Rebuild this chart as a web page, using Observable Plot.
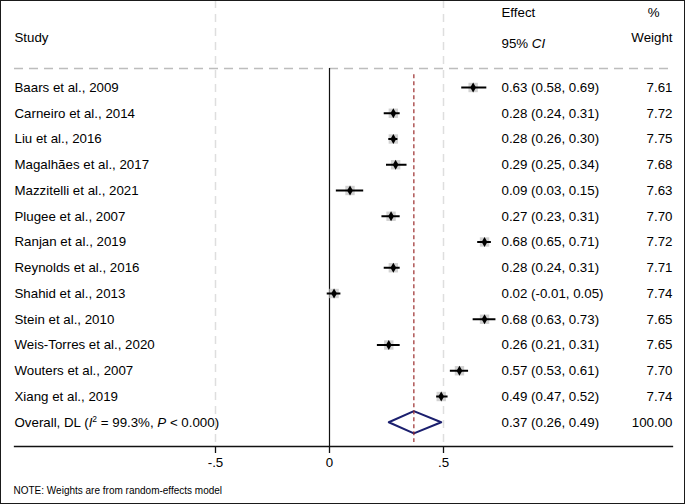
<!DOCTYPE html>
<html><head><meta charset="utf-8">
<script src="https://cdn.jsdelivr.net/npm/d3@7"></script>
<script src="https://cdn.jsdelivr.net/npm/@observablehq/plot@0.6"></script>
<style>
body{margin:0;background:#fff}
svg{display:block;outline:1px solid #1a1a1a;outline-offset:-1px}
</style>
</head><body><div id="chart"></div><script>
// ---- data ----
const studies = ["Baars et al., 2009","Carneiro et al., 2014","Liu et al., 2016","Magalhães et al., 2017","Mazzitelli et al., 2021","Plugee et al., 2007","Ranjan et al., 2019","Reynolds et al., 2016","Shahid et al., 2013","Stein et al., 2010","Weis-Torres et al., 2020","Wouters et al., 2007","Xiang et al., 2019"];
const effects = [0.63,0.28,0.28,0.29,0.09,0.27,0.68,0.28,0.02,0.68,0.26,0.57,0.49];
const lowers  = [0.58,0.24,0.26,0.25,0.03,0.23,0.65,0.24,-0.01,0.63,0.21,0.53,0.47];
const uppers  = [0.69,0.31,0.30,0.34,0.15,0.31,0.71,0.31,0.05,0.73,0.31,0.61,0.52];
const weights = [7.61,7.72,7.75,7.68,7.63,7.70,7.72,7.71,7.74,7.65,7.65,7.70,7.74];
const overallEffect = 0.37, overallLower = 0.26, overallUpper = 0.49, overallWeight = 100.00;
const overallLabelParts = [{t:"Overall, DL ("},{t:"I",it:true},{t:"2",sup:true},{t:" = 99.3%, "},{t:"P",it:true},{t:" < 0.000)"}];
const xTicks = [-0.5, 0, 0.5];
const xTickLabels = ["-.5", "0", ".5"];
const headerEffect = ["Effect"], headerCI = ["95% CI"], headerPct = ["%"], headerWeight = ["Weight"], headerStudy = ["Study"];
const note = ["NOTE: Weights are from random-effects model"];

// ---- build table ----
const rows = studies.map((s,i)=>({study:s,row:i,effect:effects[i],lower:lowers[i],upper:uppers[i],weight:weights[i]}));
const overallRow = rows.length;
const overall = {study:overallLabelParts.map(p=>p.t).join(""),row:overallRow,effect:overallEffect,lower:overallLower,upper:overallUpper,weight:overallWeight};
const allRows = [...rows, overall];
const f2 = v => v.toFixed(2);
const ciText = d => `${f2(d.effect)} (${f2(d.lower)}, ${f2(d.upper)})`;
const diamondH = 0.43;
const diamond = [
  {x:overall.lower,y:overallRow},{x:overall.effect,y:overallRow-diamondH},
  {x:overall.upper,y:overallRow},{x:overall.effect,y:overallRow+diamondH}
];
const sepRow = -0.74, axisRow = 13.94;
const FONT = "'Liberation Sans', Arial, Helvetica, sans-serif";
const FS = 13.3;
const colDx = -171;

const plot = Plot.plot({
  width: 685, height: 504,
  marginLeft: 14, marginRight: 13, marginTop: 0, marginBottom: 58,
  style: {fontFamily: FONT, fontSize: FS + "px", color: "#000", background: "#fff", overflow: "visible"},
  x: {domain: [-0.5, 0.5], range: [215, 443]},
  y: {domain: [0, 12], range: [87, 396], axis: null},
  marks: [
    Plot.ruleX(xTicks.filter(d => d !== 0), {stroke: "#dedede", strokeWidth: 1.5, strokeDasharray: "8,6"}),
    Plot.ruleY([sepRow], {stroke: "#bdbdbd", strokeWidth: 1.5, strokeDasharray: "9,6"}),
    Plot.ruleX([0], {y1: sepRow, y2: axisRow, stroke: "#111", strokeWidth: 1.2}),
    Plot.frame({anchor: "bottom", stroke: "#111", strokeWidth: 1.3}),
    Plot.axisX({ticks: xTicks, tickFormat: d => xTickLabels[xTicks.indexOf(d)], tickSize: 7, tickPadding: 4, fontSize: FS, label: null, stroke: "#111", strokeWidth: 1.3}),
    Plot.dot(rows, {x: "effect", y: "row", symbol: "square", r: 5.3, fill: "#d2d2d2", stroke: "none"}),
    Plot.ruleY(rows, {y: "row", x1: "lower", x2: "upper", stroke: "#000", strokeWidth: 2}),
    Plot.dot(rows, {x: "effect", y: "row", symbol: "diamond", r: 3, fill: "#000", stroke: "none"}),
    Plot.line(diamond, {x: "x", y: "y", curve: "linear-closed", stroke: "#1b1f6e", strokeWidth: 2, fill: "none"}),
    Plot.ruleX([overallEffect], {y1: -0.5, y2: 13.79, stroke: "#9b2b2b", strokeWidth: 1.2, strokeDasharray: "4,3"}),
    Plot.text(allRows, {y: "row", text: "study", frameAnchor: "left", textAnchor: "start", fontSize: FS}),
    Plot.text(allRows, {y: "row", text: ciText, frameAnchor: "right", dx: colDx, textAnchor: "start", fontSize: FS}),
    Plot.text(allRows, {y: "row", text: d => f2(d.weight), frameAnchor: "right", textAnchor: "end", fontSize: FS}),
    Plot.text(headerStudy, {frameAnchor: "top-left", dy: 37, lineAnchor: "middle", textAnchor: "start", fontSize: FS}),
    Plot.text(headerEffect, {frameAnchor: "top-right", dx: colDx, dy: 12, lineAnchor: "middle", textAnchor: "start", fontSize: FS}),
    Plot.text(headerCI, {frameAnchor: "top-right", dx: colDx, dy: 43, lineAnchor: "middle", textAnchor: "start", fontSize: FS}),
    Plot.text(headerPct, {frameAnchor: "top-right", dx: -13, dy: 12, lineAnchor: "middle", textAnchor: "end", fontSize: FS}),
    Plot.text(headerWeight, {frameAnchor: "top-right", dy: 37, lineAnchor: "middle", textAnchor: "end", fontSize: FS}),
    Plot.text(note, {frameAnchor: "bottom-left", dx: -1, dy: 44, lineAnchor: "middle", textAnchor: "start", fontSize: 10})
  ]
});
document.getElementById("chart").appendChild(plot);

// rich text: italics and superscript
d3.select(plot).selectAll("text").each(function() {
  const el = d3.select(this);
  const txt = this.textContent;
  if (txt === headerCI[0]) {
    el.text("");
    el.append("tspan").text("95% ");
    el.append("tspan").attr("font-style", "italic").text("CI");
  } else if (txt === overall.study) {
    el.text("");
    overallLabelParts.forEach((p, i) => {
      const t = el.append("tspan").text(p.t);
      if (p.it) t.attr("font-style", "italic");
      if (p.sup) t.attr("font-size", "8.5px").attr("dy", "-5");
      else if (i > 0 && overallLabelParts[i-1].sup) t.attr("dy", "5");
    });
  }
});
</script></body></html>
